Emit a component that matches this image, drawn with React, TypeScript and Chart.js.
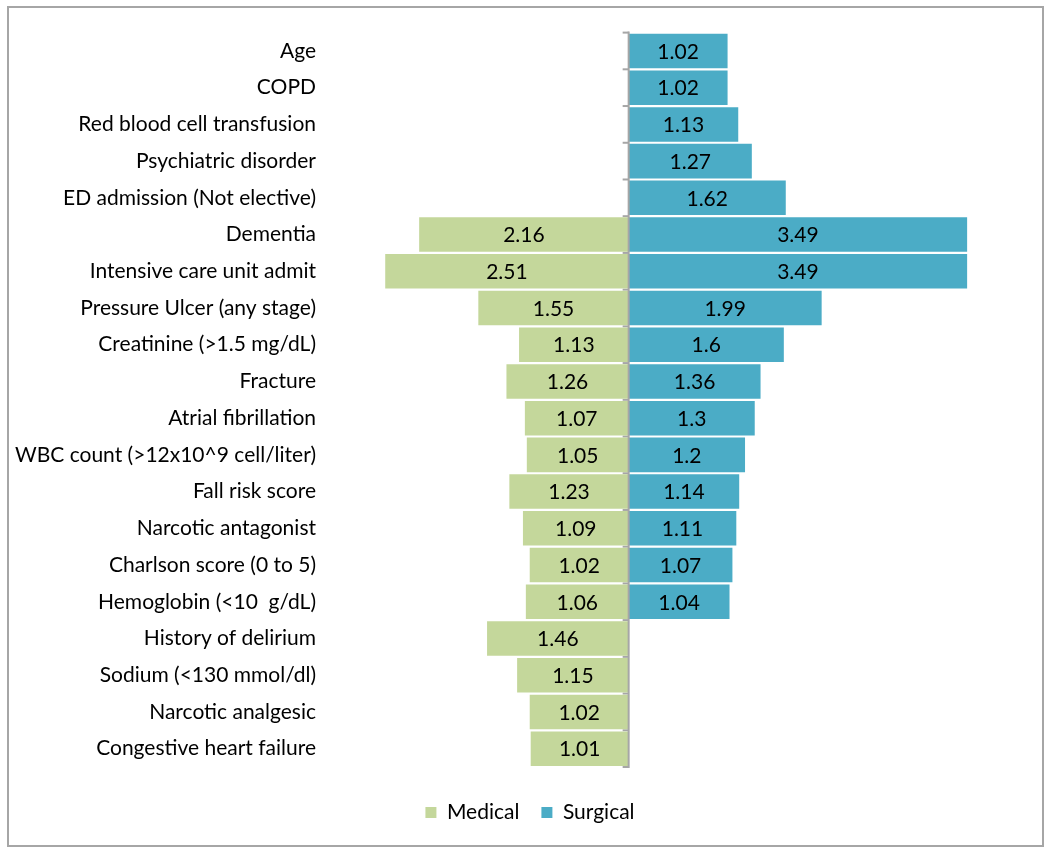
import React, { useEffect, useRef } from "react";
import { Chart, registerables } from "chart.js";

Chart.register(...registerables);

const categories: string[] = [
  "Age",
  "COPD",
  "Red blood cell transfusion",
  "Psychiatric disorder",
  "ED admission (Not elective)",
  "Dementia",
  "Intensive care unit admit",
  "Pressure Ulcer (any stage)",
  "Creatinine (>1.5 mg/dL)",
  "Fracture",
  "Atrial fibrillation",
  "WBC count (>12x10^9 cell/liter)",
  "Fall risk score",
  "Narcotic antagonist",
  "Charlson score (0 to 5)",
  "Hemoglobin (<10  g/dL)",
  "History of delirium",
  "Sodium (<130 mmol/dl)",
  "Narcotic analgesic",
  "Congestive heart failure",
];

const medicalValues: (number | null)[] = [
  null, null, null, null, null, 2.16, 2.51, 1.55, 1.13, 1.26, 1.07, 1.05, 1.23, 1.09, 1.02, 1.06, 1.46, 1.15, 1.02, 1.01,
];

const surgicalValues: (number | null)[] = [
  1.02, 1.02, 1.13, 1.27, 1.62, 3.49, 3.49, 1.99, 1.6, 1.36, 1.3, 1.2, 1.14, 1.11, 1.07, 1.04, null, null, null, null,
];

const seriesNames = ["Medical", "Surgical"];
const seriesColors = ["#C4D79B", "#4BACC6"];

const FONT = "Lato, 'DejaVu Sans', sans-serif";
const FONT_SIZE = 21;

const widenLabelArea = {
  id: "widenLabelArea",
  afterLayout(chart: any) {
    // let the long category labels extend past the scale's left edge without clipping
    chart.scales.y.left = 0;
  },
};

const axisTicksPlugin = {
  id: "axisTicks",
  beforeDatasetsDraw(chart: any) {
    const ctx = chart.ctx;
    const x0 = chart.scales.x.getPixelForValue(0);
    const y = chart.scales.y;
    ctx.save();
    ctx.strokeStyle = "#A6A6A6";
    ctx.lineWidth = 2;
    for (let k = 0; k <= categories.length; k++) {
      const py = y.getPixelForValue(k - 0.5);
      ctx.beginPath();
      ctx.moveTo(x0 - 6, py);
      ctx.lineTo(x0, py);
      ctx.stroke();
    }
    ctx.restore();
  },
  afterDatasetsDraw(chart: any) {
    const ctx = chart.ctx;
    const x0 = chart.scales.x.getPixelForValue(0);
    const y = chart.scales.y;
    ctx.save();
    ctx.strokeStyle = "#A6A6A6";
    ctx.lineWidth = 2;
    ctx.beginPath();
    ctx.moveTo(x0, y.getPixelForValue(-0.5) - 1);
    ctx.lineTo(x0, y.getPixelForValue(categories.length - 0.5) + 1);
    ctx.stroke();
    ctx.restore();
  },
};

const valueLabelPlugin = {
  id: "valueLabels",
  afterDatasetsDraw(chart: any) {
    const ctx = chart.ctx;
    const raws = [medicalValues, surgicalValues];
    ctx.save();
    ctx.font = `${FONT_SIZE}px ${FONT}`;
    ctx.fillStyle = "#000000";
    ctx.textAlign = "center";
    ctx.textBaseline = "middle";
    chart.data.datasets.forEach((_ds: any, i: number) => {
      const meta = chart.getDatasetMeta(i);
      meta.data.forEach((bar: any, j: number) => {
        const v = raws[i][j];
        if (v == null) return;
        const p = bar.getProps(["x", "y", "base"], true);
        ctx.fillText(String(v), (p.x + p.base) / 2, p.y + 1);
      });
    });
    ctx.restore();
  },
};

export default function App() {
  const canvasRef = useRef<HTMLCanvasElement | null>(null);

  useEffect(() => {
    if (!canvasRef.current) return;
    const chart = new Chart(canvasRef.current, {
      type: "bar",
      data: {
        labels: categories,
        datasets: [
          {
            label: seriesNames[0],
            data: medicalValues.map((v) => (v == null ? null : -v)),
            backgroundColor: seriesColors[0],
            borderWidth: 0,
            barPercentage: 0.94,
            categoryPercentage: 1,
          },
          {
            label: seriesNames[1],
            data: surgicalValues,
            backgroundColor: seriesColors[1],
            borderWidth: 0,
            barPercentage: 0.94,
            categoryPercentage: 1,
          },
        ],
      },
      options: {
        indexAxis: "y",
        responsive: false,
        animation: false,
        events: [],
        layout: { padding: { top: 23, left: 9, right: 0, bottom: 12 } },
        scales: {
          x: {
            stacked: true,
            min: -3.1,
            max: 4.262,
            grid: { display: false, drawTicks: false },
            border: { display: false },
            ticks: { display: false },
            afterFit: (s: any) => {
              s.height = 13;
            },
          },
          y: {
            stacked: true,
            grid: { display: false, drawTicks: false },
            border: { display: false },
            ticks: {
              color: "#000000",
              padding: 12,
              font: { family: FONT, size: FONT_SIZE },
            },
            afterFit: (s: any) => {
              s.width = 310;
            },
          },
        },
        plugins: {
          legend: {
            position: "bottom",
            labels: {
              color: "#000000",
              boxWidth: 11,
              boxHeight: 11,
              padding: 22,
              font: { family: FONT, size: FONT_SIZE },
            },
          },
          tooltip: { enabled: false },
        },
      },
      plugins: [widenLabelArea, axisTicksPlugin, valueLabelPlugin],
    } as any);
    return () => chart.destroy();
  }, []);

  return (
    <div
      style={{
        position: "absolute",
        left: 7,
        top: 6,
        width: 1037,
        height: 841,
        boxSizing: "border-box",
        border: "2px solid #A6A6A6",
        background: "#ffffff",
      }}
    >
      <canvas ref={canvasRef} width={1033} height={837} style={{ display: "block" }} />
    </div>
  );
}
